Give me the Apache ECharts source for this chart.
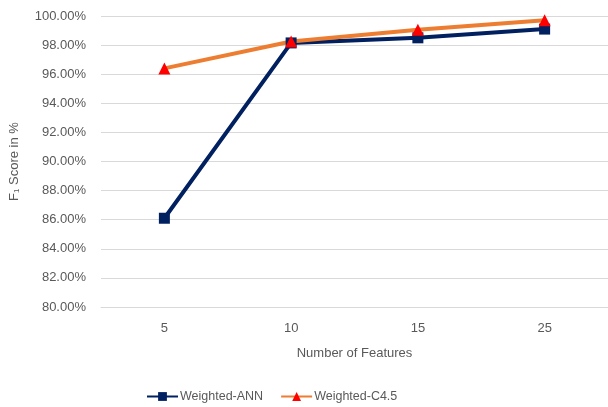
<!DOCTYPE html>
<html>
<head>
<meta charset="utf-8">
<script src="https://cdn.jsdelivr.net/npm/echarts@6/dist/echarts.min.js"></script>
<style>html,body{margin:0;padding:0;background:#fff}#c{width:608px;height:407px}</style>
</head>
<body>
<div id="c"></div>
<script>
var categories = ['5', '10', '15', '25'];
var annValues = [86.1, 98.15, 98.5, 99.1];
var c45Values = [96.4, 98.25, 99.05, 99.7];
var yMin = 80, yMax = 100, yStep = 2;

var font = 'Liberation Sans';
var txt = '#595959';
var chart = echarts.init(document.getElementById('c'));
chart.setOption({
  animation: false,
  textStyle: { fontFamily: font },
  grid: { left: 100, right: -4, top: 16, bottom: 100 },
  legend: {
    bottom: -1, left: 141, itemWidth: 31, itemHeight: 11, itemGap: 17,
    textStyle: { color: txt, fontSize: 12.5, fontFamily: font, padding: [0, 0, 0, -3] },
    data: ['Weighted-ANN', 'Weighted-C4.5']
  },
  xAxis: {
    type: 'category', data: categories, boundaryGap: true,
    name: 'Number of Features', nameLocation: 'middle', nameGap: 40,
    nameTextStyle: { color: txt, fontSize: 13, fontFamily: font },
    axisLine: { lineStyle: { color: '#d9d9d9', width: 1 } },
    axisTick: { show: false },
    axisLabel: { color: txt, fontSize: 13, margin: 15 }
  },
  yAxis: {
    type: 'value', min: yMin, max: yMax, interval: yStep,
    name: 'F\u2081 Score in %', nameLocation: 'middle', nameGap: 80, nameRotate: 90,
    nameTextStyle: { color: txt, fontSize: 13, fontFamily: font },
    axisLine: { show: false }, axisTick: { show: false },
    axisLabel: { color: txt, fontSize: 13, margin: 15, formatter: function (v) { return v.toFixed(2) + '%'; } },
    splitLine: { lineStyle: { color: '#d9d9d9', width: 1 } }
  },
  series: [
    {
      name: 'Weighted-ANN', type: 'line', data: annValues,
      symbol: 'rect', symbolSize: 11,
      lineStyle: { color: '#002060', width: 4 },
      itemStyle: { color: '#002060' }
    },
    {
      name: 'Weighted-C4.5', type: 'line', data: c45Values,
      symbol: 'triangle', symbolSize: 12,
      lineStyle: { color: '#ED7D31', width: 4 },
      itemStyle: { color: '#FF0000' }
    }
  ]
});
</script>
</body>
</html>
